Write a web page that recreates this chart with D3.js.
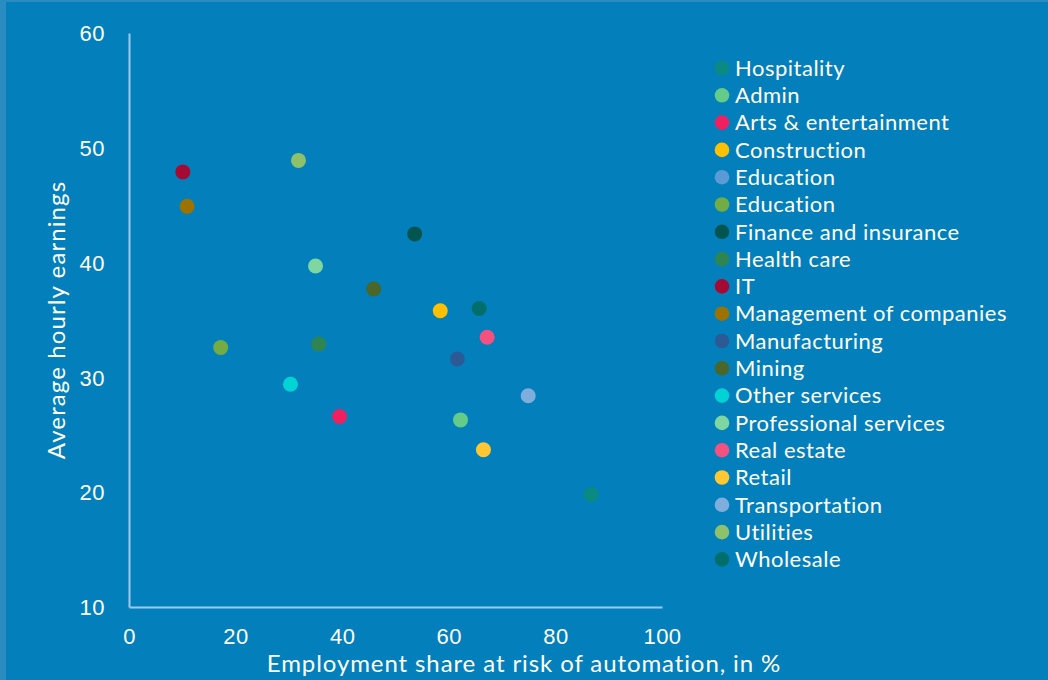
<!DOCTYPE html>
<html>
<head>
<meta charset="utf-8">
<script src="https://cdn.jsdelivr.net/npm/d3@7"></script>
<style>
  body { margin: 0; background: #0380bb; }
  svg { display: block; font-family: "Lato", "Open Sans", sans-serif; }
</style>
</head>
<body>
<div id="chart"></div>
<script>
var sectors = ["Hospitality", "Admin", "Arts & entertainment", "Construction", "Education", "Education",
  "Finance and insurance", "Health care", "IT", "Management of companies", "Manufacturing", "Mining",
  "Other services", "Professional services", "Real estate", "Retail", "Transportation", "Utilities", "Wholesale"];
var automationShare = [86.7, 62.2, 39.5, 58.4, null, 17.2, 53.6, 35.6, 10.1, 10.9, 61.6, 45.9, 30.3, 35.0, 67.2, 66.5, 74.9, 31.8, 65.7];
var hourlyEarnings = [19.8, 26.3, 26.6, 35.8, null, 32.6, 42.5, 32.9, 47.9, 44.9, 31.6, 37.7, 29.4, 39.7, 33.5, 23.7, 28.4, 48.9, 36.0];
var sectorColors = ["#0a8a80", "#64cc88", "#f02060", "#ffc000", "#5b9bd5", "#74ac44", "#00554f", "#2e8552",
  "#a50a35", "#9c7200", "#2c5a94", "#4a6628", "#00d3d3", "#7fd6a0", "#f45080", "#ffc832", "#80aedc", "#8fc06a", "#006e6a"];
var xTicks = [0, 20, 40, 60, 80, 100];
var yTicks = [10, 20, 30, 40, 50, 60];

var svgWidth = 1048;
var svgHeight = 680;
var margin = { top: 33, right: 386, bottom: 73, left: 129 };
var width = svgWidth - margin.left - margin.right;
var height = svgHeight - margin.top - margin.bottom;

var data = sectors.map(function(s, i) {
  return { name: s, x: automationShare[i], y: hourlyEarnings[i], color: sectorColors[i] };
});

var svg = d3.select("#chart")
  .append("svg")
  .attr("width", svgWidth)
  .attr("height", svgHeight)
  .style("background-color", "#0380bb");

// lighter outer band, top and left
svg.append("rect").attr("x", 0).attr("y", 0).attr("width", svgWidth).attr("height", 2).attr("fill", "#2a8cc0");
svg.append("rect").attr("x", 0).attr("y", 0).attr("width", 6).attr("height", svgHeight).attr("fill", "#2a8cc0");

var chartGroup = svg.append("g")
  .attr("transform", `translate(${margin.left}, ${margin.top})`);

var xScale = d3.scaleLinear().domain([0, 100]).range([0, width]);
var yScale = d3.scaleLinear().domain([10, 60]).range([height, 0]);

var bottomAxis = d3.axisBottom(xScale).tickValues(xTicks).tickSize(0).tickPadding(21);
var leftAxis = d3.axisLeft(yScale).tickValues(yTicks).tickSize(0).tickPadding(24);

var xAxisG = chartGroup.append("g")
  .attr("transform", `translate(0, ${height})`)
  .call(bottomAxis);
var yAxisG = chartGroup.append("g").call(leftAxis);

[xAxisG, yAxisG].forEach(function(g) {
  g.select(".domain").attr("stroke", "#9cc9f2").attr("stroke-width", 2);
  g.selectAll("text").attr("fill", "#ffffff").style("font-size", "22px").style("letter-spacing", "0.5px");
});
xAxisG.selectAll("text").attr("dy", "0.71em");
yAxisG.selectAll("text").attr("dy", "0.35em");

// points
chartGroup.selectAll("circle.pt")
  .data(data.filter(function(d) { return d.x != null; }))
  .enter()
  .append("circle")
  .attr("class", "pt")
  .attr("cx", d => xScale(d.x))
  .attr("cy", d => yScale(d.y))
  .attr("r", 7.5)
  .attr("fill", d => d.color);

// axis titles
svg.append("text")
  .attr("x", svgWidth / 2)
  .attr("y", 672)
  .attr("text-anchor", "middle")
  .attr("fill", "#ffffff")
  .style("font-size", "24px")
  .style("letter-spacing", "0.9px")
  .text("Employment share at risk of automation, in %");

svg.append("text")
  .attr("transform", "rotate(-90)")
  .attr("x", -(margin.top + height / 2))
  .attr("y", 65)
  .attr("text-anchor", "middle")
  .attr("fill", "#ffffff")
  .style("font-size", "24px")
  .style("letter-spacing", "1.1px")
  .text("Average hourly earnings");

// legend
var legend = svg.append("g").attr("transform", "translate(722, 68)");
var rows = legend.selectAll("g")
  .data(data)
  .enter()
  .append("g")
  .attr("transform", (d, i) => `translate(0, ${i * 27.3})`);
rows.append("circle").attr("r", 7.3).attr("fill", d => d.color);
rows.append("text")
  .attr("x", 13)
  .attr("dy", "0.35em")
  .attr("fill", "#ffffff")
  .style("font-size", "22px")
  .style("letter-spacing", "0.5px")
  .text(d => d.name);
</script>
</body>
</html>
